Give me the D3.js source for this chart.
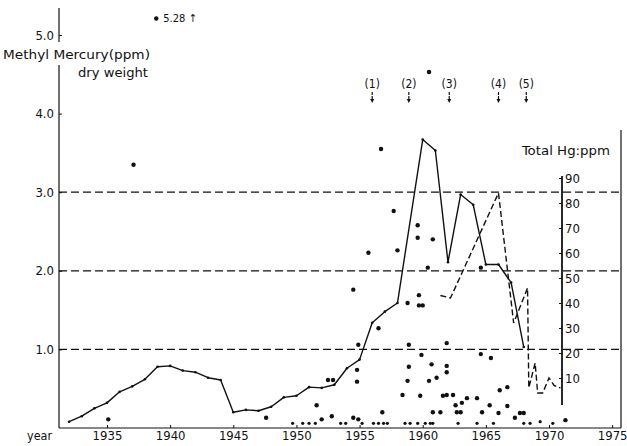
<!DOCTYPE html>
<html>
<head>
<meta charset="utf-8">
<script src="https://cdn.jsdelivr.net/npm/d3@7/dist/d3.min.js"></script>
<style>
  body { margin: 0; background: #fff; }
  svg { display: block; }
  text { font-family: "Liberation Sans Narrow", "DejaVu Sans Condensed", "Liberation Sans", sans-serif; fill: #111; }
</style>
</head>
<body>
<div id="chart"></div>
<script>
// methyl mercury (ppm, dry weight) - yearly mean, solid line
var avgYears = [1932, 1933, 1934, 1935, 1936, 1937, 1938, 1939, 1940, 1941, 1942, 1943, 1944,
  1945, 1946, 1947, 1948, 1949, 1950, 1951, 1952, 1953, 1954, 1955, 1956, 1957, 1958,
  1960, 1961, 1962, 1963, 1964, 1965, 1966, 1967, 1968];
var avgValues = [0.08, 0.15, 0.25, 0.32, 0.46, 0.53, 0.62, 0.78, 0.79, 0.73, 0.71, 0.64, 0.61,
  0.20, 0.23, 0.22, 0.27, 0.39, 0.41, 0.52, 0.51, 0.55, 0.76, 0.87, 1.34, 1.48, 1.59,
  3.67, 3.53, 2.11, 2.97, 2.84, 2.08, 2.08, 1.85, 1.03];

// total Hg (ppm) - dashed line, right axis
var hgYears = [1961.4, 1962.2, 1966.0, 1967.2, 1968.3, 1968.4, 1968.9, 1969.1, 1969.5, 1970.0, 1970.4, 1970.9];
var hgValues = [43, 42, 84, 32, 46, 6, 16, 4, 4, 10, 7, 6];

// individual samples (methyl mercury)
var sampleYears = [1935.1, 1937.1, 1938.9, 1947.6, 1949.7, 1950.5, 1951.0, 1951.5, 1951.6, 1952.0,
  1952.8, 1952.5, 1952.9, 1953.5, 1953.9, 1954.5, 1954.9, 1955.2, 1954.5, 1954.8,
  1954.8, 1954.9, 1955.7, 1956.5, 1956.7, 1956.1, 1956.5, 1956.9, 1957.2, 1956.8,
  1957.7, 1958.0, 1958.4, 1958.6, 1959.0, 1958.8, 1958.8, 1958.9, 1958.9, 1959.6,
  1959.6, 1959.6, 1959.7, 1959.7, 1960.0, 1959.8, 1959.9, 1960.2, 1960.6, 1960.8,
  1960.5, 1960.4, 1960.8, 1960.5, 1960.7, 1961.1, 1960.8, 1961.4, 1961.6, 1961.9,
  1961.9, 1961.9, 1961.9, 1962.4, 1962.6, 1962.7, 1963.0, 1963.1, 1963.5, 1962.8,
  1964.3, 1964.3, 1964.7, 1964.6, 1964.6, 1965.4, 1965.3, 1965.6, 1966.0, 1966.1,
  1966.7, 1966.7, 1967.3, 1967.7, 1968.0, 1968.0, 1968.5, 1969.3, 1970.3, 1971.3];
var sampleValues = [0.11, 3.35, 5.21, 0.13, 0.06, 0.06, 0.06, 0.06, 0.29, 0.11,
  0.15, 0.61, 0.61, 0.06, 0.06, 0.13, 0.11, 0.06, 1.76, 0.74,
  0.59, 1.06, 2.23, 1.27, 3.55, 0.06, 0.06, 0.06, 0.06, 0.20,
  2.76, 2.26, 0.42, 0.06, 0.06, 1.59, 0.60, 1.06, 0.78, 0.06,
  2.58, 2.42, 1.69, 1.56, 1.56, 0.41, 0.93, 0.06, 0.06, 0.06,
  4.53, 2.04, 2.40, 0.60, 0.81, 0.64, 0.20, 0.20, 0.41, 1.08,
  0.79, 0.71, 0.42, 0.42, 0.29, 0.20, 0.20, 0.32, 0.38, 0.06,
  0.38, 0.06, 0.20, 2.04, 0.94, 0.89, 0.29, 0.06, 0.19, 0.48,
  0.52, 0.28, 0.13, 0.19, 0.19, 0.06, 0.06, 0.08, 0.06, 0.10];

// events marked at top
var eventLabels = ["(1)", "(2)", "(3)", "(4)", "(5)"];
var eventYears = [1956.0, 1958.9, 1962.1, 1966.0, 1968.2];

var xTicks = [1935, 1940, 1945, 1950, 1955, 1960, 1965, 1970, 1975];
var yTicks = [1, 2, 3, 4, 5];
var gridTicks = [1, 2, 3];
var rightTicks = [10, 20, 30, 40, 50, 60, 70, 80, 90];

var svgWidth = 627;
var svgHeight = 446;

var svg = d3.select("#chart")
  .append("svg")
  .attr("width", svgWidth)
  .attr("height", svgHeight);

// scales
var x = d3.scaleLinear().domain([1931.2, 1975.7]).range([59, 621]);
var y = d3.scaleLinear().domain([0, 5]).range([428, 35]);
var yR = d3.scaleLinear().domain([0, 90]).range([403, 178]);

// dashed reference lines
svg.append("g")
  .selectAll("line")
  .data(gridTicks)
  .enter()
  .append("line")
  .attr("x1", x.range()[0])
  .attr("x2", x.range()[1])
  .attr("y1", d => y(d))
  .attr("y2", d => y(d))
  .attr("stroke", "#111")
  .attr("stroke-width", 1.3)
  .attr("stroke-dasharray", "8,4");

// left axis line (broken where the title sits)
svg.append("line")
  .attr("x1", 59).attr("x2", 59).attr("y1", 8).attr("y2", 42)
  .attr("stroke", "#111").attr("stroke-width", 1.2);
svg.append("line")
  .attr("x1", 59).attr("x2", 59).attr("y1", 65).attr("y2", y(0))
  .attr("stroke", "#111").attr("stroke-width", 1.2);

// bottom axis line
svg.append("line")
  .attr("x1", 59).attr("x2", 621).attr("y1", y(0)).attr("y2", y(0))
  .attr("stroke", "#111").attr("stroke-width", 1.2);

// right frame
svg.append("line")
  .attr("x1", 621).attr("x2", 621).attr("y1", 130).attr("y2", y(0))
  .attr("stroke", "#111").attr("stroke-width", 1.2);

// left ticks
var leftAxis = d3.axisLeft(y)
  .tickValues(yTicks)
  .tickSize(-3)
  .tickPadding(5)
  .tickFormat(d3.format(".1f"));
var yAxisG = svg.append("g")
  .attr("transform", "translate(59,0)")
  .call(leftAxis);
yAxisG.select(".domain").remove();
yAxisG.selectAll("line").attr("stroke", "#111");
yAxisG.selectAll("text").attr("font-size", 13).attr("fill", "#111")
  .attr("font-family", "Liberation Sans Narrow, Liberation Sans, sans-serif");

// bottom ticks
var bottomAxis = d3.axisBottom(x)
  .tickValues(xTicks)
  .tickSize(-3)
  .tickPadding(3)
  .tickFormat(d3.format("d"));
var xAxisG = svg.append("g")
  .attr("transform", `translate(0, ${y(0)})`)
  .call(bottomAxis);
xAxisG.select(".domain").remove();
xAxisG.selectAll("line").attr("stroke", "#111");
xAxisG.selectAll("text").attr("font-size", 13).attr("fill", "#111")
  .attr("font-family", "Liberation Sans Narrow, Liberation Sans, sans-serif");

svg.append("text")
  .attr("x", 27).attr("y", 440)
  .attr("font-size", 13)
  .attr("textLength", 25).attr("lengthAdjust", "spacingAndGlyphs")
  .text("year");

// right axis (Total Hg)
svg.append("line")
  .attr("x1", 562).attr("x2", 562).attr("y1", yR(90) - 2).attr("y2", 405)
  .attr("stroke", "#111").attr("stroke-width", 1.8);
var rightAxis = d3.axisRight(yR)
  .tickValues(rightTicks)
  .tickSize(-3)
  .tickPadding(3)
  .tickFormat(d3.format("d"));
var rAxisG = svg.append("g")
  .attr("transform", "translate(562,0)")
  .call(rightAxis);
rAxisG.select(".domain").remove();
rAxisG.selectAll("line").attr("stroke", "#111");
rAxisG.selectAll("text").attr("font-size", 13).attr("fill", "#111")
  .attr("font-family", "Liberation Sans Narrow, Liberation Sans, sans-serif");

svg.append("text")
  .attr("x", 522).attr("y", 155)
  .attr("font-size", 13)
  .attr("textLength", 88).attr("lengthAdjust", "spacingAndGlyphs")
  .text("Total Hg:ppm");

// titles on left axis
svg.append("text")
  .attr("x", 3).attr("y", 59)
  .attr("font-size", 13)
  .attr("textLength", 147).attr("lengthAdjust", "spacingAndGlyphs")
  .text("Methyl Mercury(ppm)");
svg.append("text")
  .attr("x", 78).attr("y", 77)
  .attr("font-size", 13)
  .attr("textLength", 70).attr("lengthAdjust", "spacingAndGlyphs")
  .text("dry weight");

// solid line: yearly values
var avgData = avgYears.map((d, i) => ({year: d, value: avgValues[i]}));
var line = d3.line()
  .x(d => x(d.year))
  .y(d => y(d.value));

svg.append("path")
  .datum(avgData)
  .attr("fill", "none")
  .attr("stroke", "#111")
  .attr("stroke-width", 1.4)
  .attr("stroke-linejoin", "round")
  .attr("d", line);

svg.append("g")
  .selectAll("circle")
  .data(avgData)
  .enter()
  .append("circle")
  .attr("cx", d => x(d.year))
  .attr("cy", d => y(d.value))
  .attr("r", 1.3)
  .attr("fill", "#111");

// dashed line: total Hg
var hgData = hgYears.map((d, i) => ({year: d, value: hgValues[i]}));
var hgLine = d3.line()
  .x(d => x(d.year))
  .y(d => yR(d.value));

svg.append("path")
  .datum(hgData)
  .attr("fill", "none")
  .attr("stroke", "#111")
  .attr("stroke-width", 1.4)
  .attr("stroke-dasharray", "6,3")
  .attr("d", hgLine);

// samples
var sampleData = sampleYears.map((d, i) => ({year: d, value: sampleValues[i]}));
svg.append("g")
  .selectAll("circle")
  .data(sampleData)
  .enter()
  .append("circle")
  .attr("cx", d => x(d.year))
  .attr("cy", d => y(d.value))
  .attr("r", d => d.value < 0.1 ? 1.6 : 2.2)
  .attr("fill", "#111");

// off-scale sample label
svg.append("text")
  .attr("x", x(1938.9) + 7)
  .attr("y", y(5.21) + 4)
  .attr("font-size", 11)
  .text("5.28 \u2191");

// event markers
var eventG = svg.append("g")
  .selectAll("g")
  .data(eventYears)
  .enter()
  .append("g")
  .attr("transform", d => `translate(${x(d)}, 0)`);

eventG.append("text")
  .attr("y", 88)
  .attr("text-anchor", "middle")
  .attr("font-size", 12)
  .text((d, i) => eventLabels[i]);

eventG.append("line")
  .attr("y1", 92).attr("y2", 100)
  .attr("stroke", "#111")
  .attr("stroke-width", 1.2)
  .attr("stroke-dasharray", "3,1");

eventG.append("path")
  .attr("d", "M-2,99 L2,99 L0,103 Z")
  .attr("fill", "#111");
</script>
</body>
</html>
